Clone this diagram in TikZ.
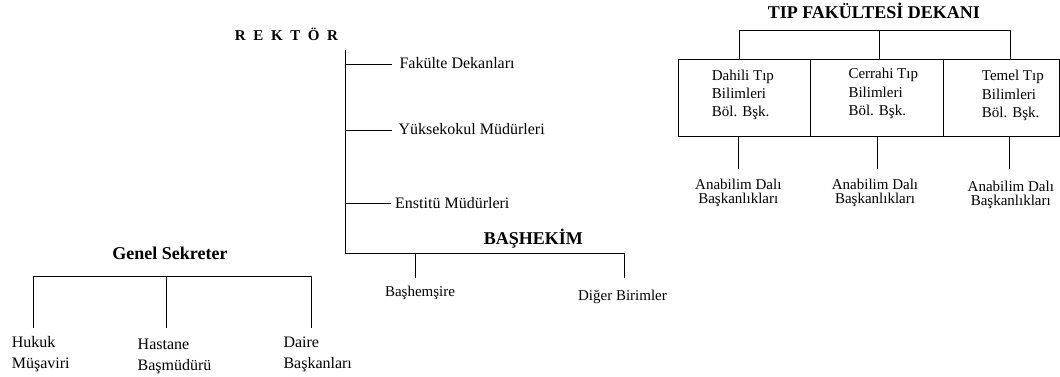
\documentclass[tikz,border=0pt]{standalone}
\usepackage{fontspec}
\setmainfont{Liberation Serif}
\begin{document}
\begin{tikzpicture}[x=1pt,y=-1pt,
  line/.style={draw=black,line width=1pt},
  lbl/.style={inner sep=0pt,font=\fontsize{15}{18}\selectfont},
  lblb/.style={inner sep=0pt,font=\fontsize{16}{19}\selectfont},
  ttl/.style={inner sep=0pt,font=\fontsize{18}{21}\selectfont\bfseries},
  cell/.style={draw=black,line width=1pt,inner sep=0pt,minimum height=76.7pt,anchor=north west}]
\useasboundingbox (0,0) rectangle (1060,376);
% ---------- REKTOR ----------
\node[inner sep=0pt,font=\fontsize{15}{18}\selectfont\bfseries,anchor=base] (rektor) at (286.5,40)
  {R\kern7.6pt E\kern7.6pt K\kern7.6pt T\kern7.6pt Ö\kern7.6pt R};
\coordinate (r0) at (345,50);
\coordinate (r1) at (345,64.3);
\coordinate (r2) at (345,130.7);
\coordinate (r3) at (345,203.3);
\coordinate (r4) at (345,253.3);
\node[lblb,anchor=base west] (fak) at (399.3,68.3) {Fakülte Dekanları};
\node[lblb,anchor=base west] (yuk) at (398.3,134.3) {Yüksekokul Müdürleri};
\node[lblb,anchor=base west] (ens) at (395,208.7) {Enstitü Müdürleri};
\coordinate (f1) at (392,64.3);
\coordinate (y1) at (392,130.7);
\coordinate (e1) at (391,203.3);
\draw[line] (r0) -- (r4);
\draw[line] (r1) -- (f1);
\draw[line] (r2) -- (y1);
\draw[line] (r3) -- (e1);
% ---------- BASHEKIM ----------
\node[ttl,anchor=base] (bhk) at (533.3,244.3) {BAŞHEKİM};
\coordinate (b1) at (415.7,253.3);
\coordinate (b2) at (624.3,253.3);
\coordinate (b1e) at (415.7,278);
\coordinate (b2e) at (624.3,277.7);
\draw[line] (r4) -- (b2) -- (b2e);
\draw[line] (b1) -- (b1e);
\node[lbl,anchor=base] (bhs) at (420,296.7) {Başhemşire};
\node[lbl,anchor=base] (dgr) at (622.5,300.7) {Diğer Birimler};
% ---------- GENEL SEKRETER ----------
\node[ttl,anchor=base] (gs) at (170,259.3) {Genel Sekreter};
\coordinate (g1) at (33.3,276.7);
\coordinate (g2) at (166.7,276.7);
\coordinate (g3) at (311.7,276.7);
\coordinate (g1e) at (33.3,328);
\coordinate (g2e) at (166.7,328);
\coordinate (g3e) at (311.7,328);
\draw[line] (g1e) -- (g1) -- (g3) -- (g3e);
\draw[line] (g2) -- (g2e);
\node[lblb,anchor=base west] (huk1) at (11.7,347) {Hukuk};
\node[lblb,anchor=base west] (huk2) at (11.7,368.3) {Müşaviri};
\node[lblb,anchor=base west] (has1) at (137.5,349.3) {Hastane};
\node[lblb,anchor=base west] (has2) at (137.5,370) {Başmüdürü};
\node[lblb,anchor=base west] (dai1) at (283.3,347.3) {Daire};
\node[lblb,anchor=base west] (dai2) at (283.3,368.3) {Başkanları};
% ---------- TIP FAKULTESI DEKANI ----------
\node[ttl,anchor=base] (tip) at (873.8,18.3) {TIP FAKÜLTESİ DEKANI};
\coordinate (t1) at (739.3,30);
\coordinate (t2) at (879,30);
\coordinate (t3) at (1010,30);
\node[cell,minimum width=131.7pt] (c1) at (678.3,59.3) {};
\node[cell,minimum width=132.7pt] (c2) at (810,59.3) {};
\node[cell,minimum width=116.3pt] (c3) at (942.7,59.3) {};
\draw[line] (c1.north -| t1) -- (t1) -- (t3) -- (c3.north -| t3);
\draw[line] (t2) -- (c2.north -| t2);
\node[lbl,anchor=base west] (d1) at (711.7,80) {Dahili Tıp};
\node[lbl,anchor=base west] (d2) at (711.7,98) {Bilimleri};
\node[lbl,anchor=base west] (d3) at (711.7,116) {Böl. Bşk.};
\node[lbl,anchor=base west] (k1) at (848.3,78.3) {Cerrahi Tıp};
\node[lbl,anchor=base west] (k2) at (848.3,97.3) {Bilimleri};
\node[lbl,anchor=base west] (k3) at (848.3,115.3) {Böl. Bşk.};
\node[lbl,anchor=base west] (m1) at (981.7,80.7) {Temel Tıp};
\node[lbl,anchor=base west] (m2) at (981.7,99) {Bilimleri};
\node[lbl,anchor=base west] (m3) at (981.7,117.3) {Böl. Bşk.};
\coordinate (s1) at (738.3,168.5);
\coordinate (s2) at (877.3,168.5);
\coordinate (s3) at (1009.3,168.5);
\draw[line] (c1.south -| s1) -- (s1);
\draw[line] (c2.south -| s2) -- (s2);
\draw[line] (c3.south -| s3) -- (s3);
\node[lbl,anchor=base] (a1) at (738.3,189.3) {Anabilim Dalı};
\node[lbl,anchor=base] (a1b) at (738.3,203.3) {Başkanlıkları};
\node[lbl,anchor=base] (a2) at (875,189.3) {Anabilim Dalı};
\node[lbl,anchor=base] (a2b) at (875,203.3) {Başkanlıkları};
\node[lbl,anchor=base] (a3) at (1010.8,191.7) {Anabilim Dalı};
\node[lbl,anchor=base] (a3b) at (1010.8,205.7) {Başkanlıkları};
\end{tikzpicture}
\end{document}
